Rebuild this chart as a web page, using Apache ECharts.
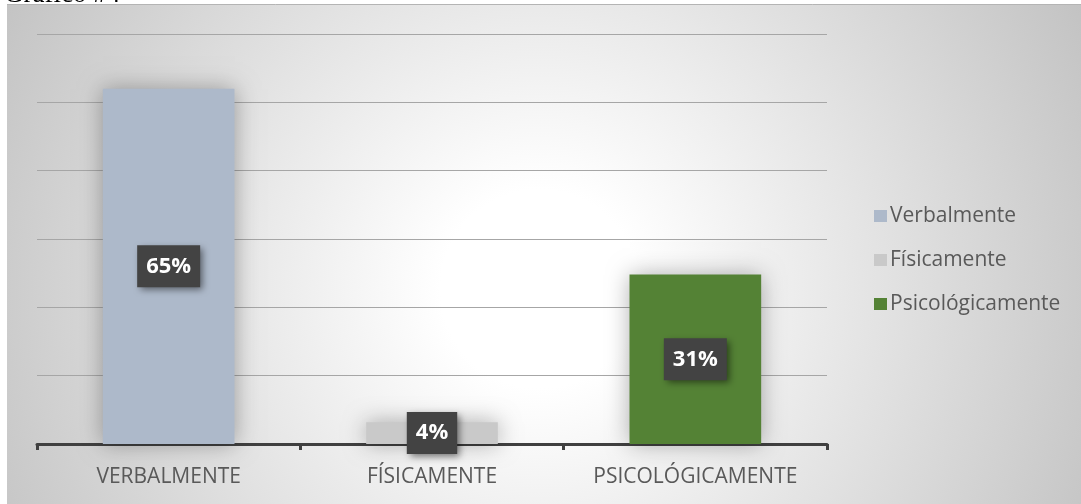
<!DOCTYPE html>
<html>
<head>
<meta charset="utf-8">
<script src="https://cdn.jsdelivr.net/npm/echarts@6/dist/echarts.min.js"></script>
<style>
  html, body { margin: 0; padding: 0; background: #fff; }
  #chart { width: 1081px; height: 504px; }
</style>
</head>
<body>
<div id="chart"></div>
<script>
// data
const categories = ['VERBALMENTE', 'FÍSICAMENTE', 'PSICOLÓGICAMENTE']
const seriesNames = ['Verbalmente', 'Físicamente', 'Psicológicamente']
const values = [65, 4, 31]
const colors = ['#adb9ca', '#c9c9c9', '#548235']

const chart = echarts.init(document.getElementById('chart'), null, { renderer: 'canvas' })

const series = seriesNames.map((name, i) => ({
    name: name,
    type: 'bar',
    barWidth: '50%',
    barGap: '-100%',
    data: values.map((v, j) => (j === i ? v : '-')),
    itemStyle: {
        color: colors[i],
        shadowBlur: 22,
        shadowColor: 'rgba(0,0,0,0.32)'
    },
    label: {
        show: true,
        position: 'inside',
        formatter: '{c}%',
        color: '#ffffff',
        fontFamily: 'Open Sans',
        fontWeight: 'bold',
        fontSize: 22,
        lineHeight: 22,
        padding: [10, 9, 10, 9],
        backgroundColor: '#434343',
        shadowBlur: 7,
        shadowOffsetX: 3,
        shadowOffsetY: 3,
        shadowColor: 'rgba(0,0,0,0.5)'
    }
}))

const option = {
    animation: false,
    graphic: [
        {
            type: 'rect',
            left: 7,
            top: 4,
            z: -10,
            shape: { width: 1074, height: 500 },
            style: {
                fill: new echarts.graphic.RadialGradient(0.496, 0.57, 1.24, [
                    { offset: 0, color: '#ffffff' },
                    { offset: 0.16, color: '#ffffff' },
                    { offset: 1, color: '#c2c2c2' }
                ])
            }
        },
        {
            type: 'line',
            z: -9,
            shape: { x1: 7, y1: 4.5, x2: 1081, y2: 4.5 },
            style: { stroke: '#b4b4b4', lineWidth: 1 }
        },
        {
            type: 'text',
            left: 4,
            top: -19,
            style: {
                text: 'Gráfico #4',
                fill: '#000',
                font: '27px "Liberation Serif"'
            }
        }
    ],
    legend: {
        orient: 'vertical',
        left: 869,
        top: 199,
        itemWidth: 13,
        itemHeight: 12,
        itemGap: 20,
        icon: 'rect',
        data: seriesNames,
        textStyle: {
            fontFamily: 'Open Sans',
            fontSize: 21,
            lineHeight: 24,
            color: '#595959',
            padding: [0, 0, 0, -2]
        }
    },
    grid: { left: 37, right: 254, top: 34, bottom: 60 },
    xAxis: {
        type: 'category',
        data: categories,
        axisLine: { lineStyle: { color: '#404040', width: 3 } },
        axisTick: { show: true, length: 6, lineStyle: { color: '#404040', width: 3 } },
        axisLabel: {
            interval: 0,
            margin: 23,
            color: '#595959',
            fontFamily: 'Open Sans',
            fontSize: 21
        }
    },
    yAxis: {
        type: 'value',
        min: 0,
        max: 75,
        interval: 12.5,
        axisLabel: { show: false },
        axisLine: { show: false },
        axisTick: { show: false },
        splitLine: { lineStyle: { color: '#a6a6a6', width: 1 } }
    },
    series: series
}

chart.setOption(option)
</script>
</body>
</html>
